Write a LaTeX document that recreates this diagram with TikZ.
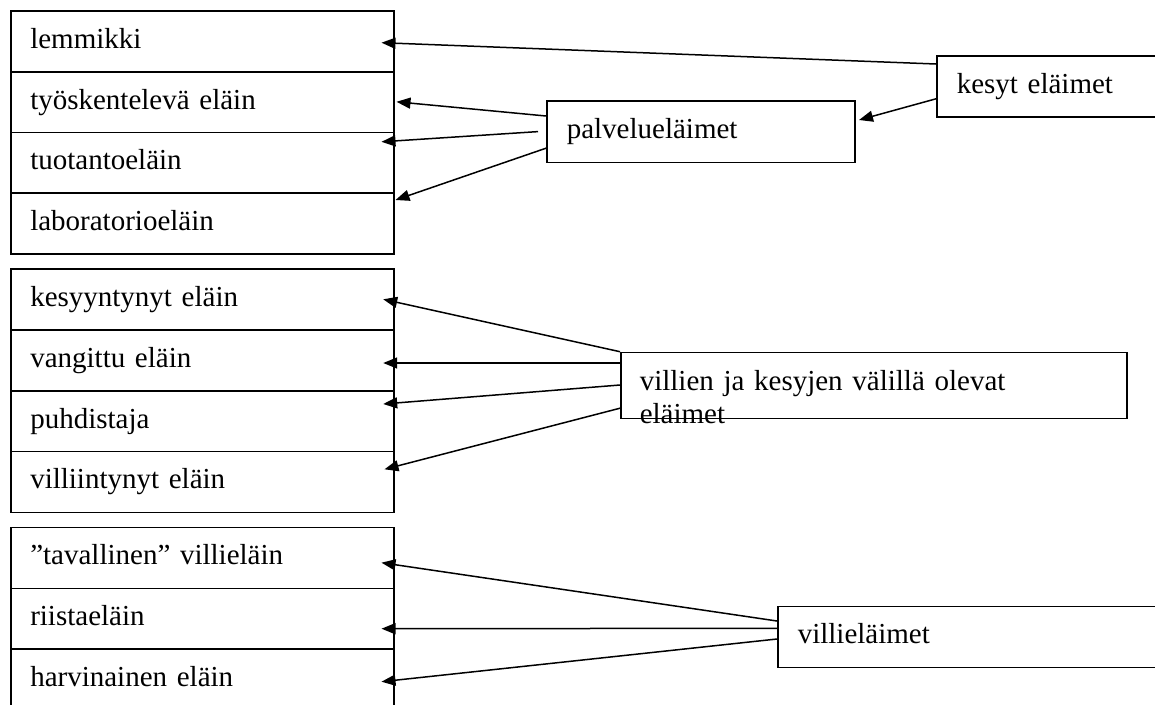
\documentclass[tikz,border=0pt]{standalone}
\usepackage{fontspec}
\setmainfont{Liberation Serif}
\usepackage{tikz}
\usetikzlibrary{arrows.meta}
\usetikzlibrary{positioning}

\tikzset{
	rivi/.style={draw, anchor=north west, minimum height=61pt, inner xsep=19.5pt, inner ysep=0pt,
		text width=344pt, text height=20pt, text depth=6pt, align=left},
	ryhma/.style={rivi, inner xsep=20pt}
}

\begin{document}
\begin{tikzpicture}[x=1pt, y=-1pt, line width=1.5pt, >={Triangle[length=14pt, width=11pt]},
	font=\fontsize{29}{33}\selectfont]
	\clip (0, 0) rectangle (1155, 704);
	% kesyt
	\node [rivi] (lemmikki) at (10, 10) {lemmikki};
	\node [rivi] (tyo) at (10, 70.8) {työskentelevä eläin};
	\node [rivi] (tuotanto) at (10, 131.6) {tuotantoeläin};
	\node [rivi] (lab) at (10, 192.4) {laboratorioeläin};
	% valimuodot
	\node [rivi] (kesyyntynyt) at (10, 268.3) {kesyyntynyt eläin};
	\node [rivi] (vangittu) at (10, 329.1) {vangittu eläin};
	\node [rivi] (puhdistaja) at (10, 389.9) {puhdistaja};
	\node [rivi] (villiintynyt) at (10, 450.7) {villiintynyt eläin};
	% villit
	\node [rivi] (tavallinen) at (10, 526.7) {”tavallinen” villieläin};
	\node [rivi] (riista) at (10, 587.5) {riistaeläin};
	\node [rivi] (harvinainen) at (10, 648.3) {harvinainen eläin};
	% ryhmat
	\node [ryhma, text width=250pt] (kesyt) at (936, 55) {kesyt eläimet};
	\node [ryhma, text width=268pt, minimum height=61.7pt] (palvelu) at (546, 100) {palvelueläimet};
	\node [ryhma, text width=466pt, minimum height=66pt] (valissa) at (620, 351.7) {};
	\node [anchor=north west, inner sep=0pt, text width=480pt, align=left] (valissateksti)
		at ([xshift=19pt, yshift=-18.2pt]valissa.north west) {villien ja kesyjen välillä olevat\\eläimet};
	\node [ryhma, text width=360pt] (villi) at (777, 605.7) {villieläimet};
	\draw [->] ([yshift=-9pt]kesyt.north west) to ([xshift=-13pt, yshift=-32.7pt]lemmikki.north east);
	\draw [->] ([yshift=18.7pt]kesyt.south west) to ([xshift=3.5pt, yshift=-20pt]palvelu.north east);
	\draw [->] ([yshift=-16pt]palvelu.north west) to ([xshift=2pt, yshift=-31pt]tyo.north east);
	\draw [->] ([xshift=-8pt]palvelu.west) to ([xshift=-13pt, yshift=-10.2pt]tuotanto.north east);
	\draw [->] ([yshift=15pt]palvelu.south west) to ([xshift=1pt, yshift=-7.6pt]lab.north east);
	\draw [->] (valissa.north west) to ([xshift=-11.3pt, yshift=-31pt]kesyyntynyt.north east);
	\draw [->] ([yshift=-11.3pt]valissa.north west) to ([xshift=-11.3pt, yshift=-33.9pt]vangittu.north east);
	\draw [->] ([yshift=-33.3pt]valissa.north west) to ([xshift=-11.3pt, yshift=-14.1pt]puhdistaja.north east);
	\draw [->] ([yshift=11pt]valissa.south west) to ([xshift=-10pt, yshift=-18.6pt]villiintynyt.north east);
	\draw [->] ([yshift=-15.3pt]villi.north west) to ([xshift=-13pt, yshift=-36pt]tavallinen.north east);
	\draw [->] ([yshift=-22.6pt]villi.north west) to ([xshift=-13pt, yshift=-41.2pt]riista.north east);
	\draw [->] ([yshift=-33.3pt]villi.north west) to ([xshift=-13pt, yshift=-33.4pt]harvinainen.north east);
\end{tikzpicture}
\end{document}
